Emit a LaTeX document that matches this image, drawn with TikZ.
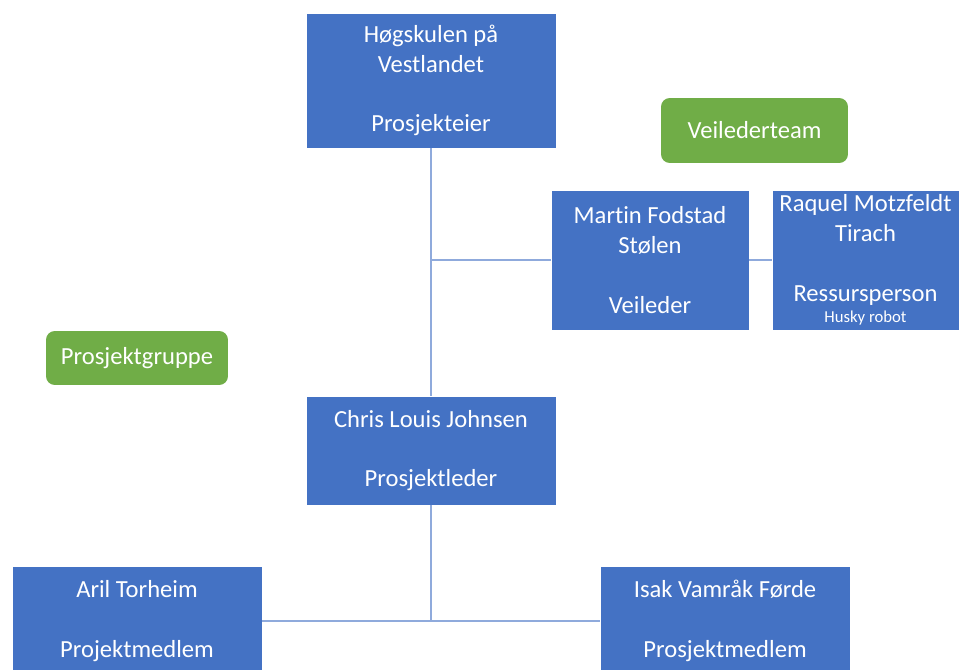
\documentclass[tikz,border=0pt]{standalone}
\usepackage{fontspec}
\setmainfont[Ligatures=NoCommon]{Carlito}
\usetikzlibrary{positioning}
\definecolor{orgblue}{HTML}{4472C4}
\definecolor{orggreen}{HTML}{70AD47}
\definecolor{orgline}{HTML}{8FAADC}

\begin{document}
\begin{tikzpicture}[x=0.02cm,y=-0.02cm,
  every node/.style={font=\fontsize{14}{17}\selectfont,text=white,align=center,inner sep=0pt},
  person/.style={fill=orgblue,draw=white,line width=.4pt,minimum width=5cm},
  team/.style={fill=orggreen,rounded corners=5pt},
  link/.style={draw=orgline,line width=1.1pt}]
\useasboundingbox (0,0) rectangle (959,669);
% green labels
\node[team,minimum width=3.74cm,minimum height=1.3cm] (veilteam) at (754.5,130.5) {Veilederteam};
\node[team,minimum width=3.64cm,minimum height=1.08cm] (gruppe) at (137,358) {Prosjektgruppe};
% persons
\node[person,minimum height=2.7cm] (eier) at (431,80.5) {Høgskulen på\\Vestlandet\\[17pt]Prosjekteier};
\node[person,minimum width=3.96cm,minimum height=2.8cm] (martin) at (650,260) {Martin Fodstad\\Stølen\\[17pt]Veileder};
\node[person,minimum width=3.74cm,minimum height=2.8cm] (raquel) at (865.5,260) {Raquel Motzfeldt\\Tirach\\[17pt]Ressursperson\\[-5pt]{\fontsize{9.5}{10}\selectfont Husky robot}};
\node[person,minimum height=2.18cm] (leder) at (431,450.5) {Chris Louis Johnsen\\[17pt]Prosjektleder};
\node[person,minimum height=2.2cm] (aril) at (137,621) {Aril Torheim\\[17pt]Projektmedlem};
\node[person,minimum height=2.2cm] (isak) at (725,621) {Isak Vamråk Førde\\[17pt]Prosjektmedlem};
% lines
\coordinate (veil) at (eier.south |- martin.west);
\coordinate (team) at (leder.south |- aril.east);
\draw[link] (eier.south) -- (leder.north);
\draw[link] (veil) -- (martin.west);
\draw[link] (martin.east) -- (raquel.west);
\draw[link] (leder.south) -- (team);
\draw[link] (aril.east) -- (isak.west);
\end{tikzpicture}
\end{document}
